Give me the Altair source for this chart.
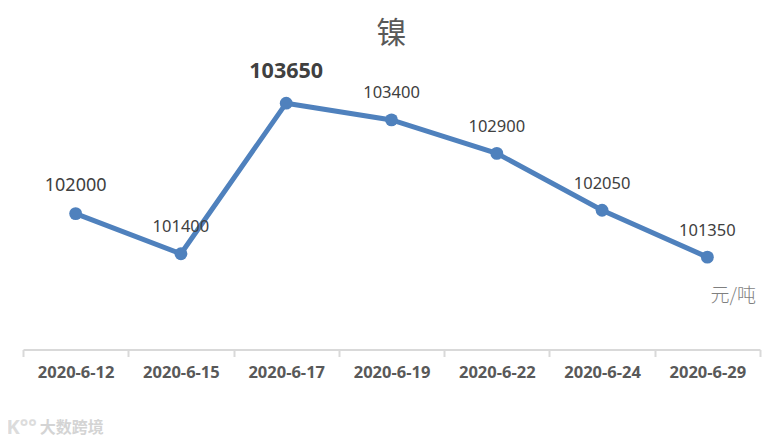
import altair as alt
import pandas as pd

dates = ["2020-6-12", "2020-6-15", "2020-6-17", "2020-6-19", "2020-6-22", "2020-6-24", "2020-6-29"]
prices = [102000, 101400, 103650, 103400, 102900, 102050, 101350]
label_sizes = [18, 16.5, 21.5, 16.5, 16.5, 16.5, 16.5]
label_bold = ["normal", "normal", "bold", "normal", "normal", "normal", "normal"]
label_dy = [-28, -27, -31, -27, -26, -26, -26]

df = pd.DataFrame({"date": dates, "price": prices, "size": label_sizes,
                   "weight": label_bold, "dy": label_dy})

x = alt.X("date:N", sort=dates, title=None,
          scale=alt.Scale(paddingInner=0, paddingOuter=0),
          axis=alt.Axis(labelAngle=0, tickBand="extent", domainColor="#d9d9d9", domainWidth=2,
                        tickColor="#d9d9d9", tickWidth=2, tickSize=7, labelPadding=8,
                        labelFont="Noto Sans", labelFontSize=16.5, labelFontWeight="bold",
                        labelColor="#595959", labelOverlap=False, grid=False))
y = alt.Y("price:Q", title=None, scale=alt.Scale(domain=[99970, 104900], nice=False, zero=False), axis=None)

base = alt.Chart(df).encode(x=x, y=y)
line = base.mark_line(color="#4f81bd", strokeWidth=5)
points = base.mark_point(filled=True, opacity=1, color="#4f81bd", size=165)

layers = [line, points]
for i in range(len(dates)):
    sub = df.iloc[[i]]
    layers.append(
        alt.Chart(sub).mark_text(font="Noto Sans", fontSize=label_sizes[i], fontWeight=label_bold[i],
                                 color="#404040", dy=label_dy[i], baseline="middle")
        .encode(x=alt.X("date:N", sort=dates), y=alt.Y("price:Q"), text=alt.Text("price:Q", format="d"))
    )

unit = alt.Chart(pd.DataFrame({"date": [dates[-1]], "price": [100770], "t": ["元/吨"]})).mark_text(
    font="Noto Sans CJK SC", fontSize=19, fontWeight=300, color="#7f7f7f", dx=26, baseline="middle"
).encode(x=alt.X("date:N", sort=dates), y=alt.Y("price:Q"), text="t:N")

mark_df = pd.DataFrame({"date": [dates[0]], "price": [98800], "t": ["大数跨境"]})
wm = alt.Chart(mark_df).mark_text(
    font="Noto Sans CJK SC", fontSize=16, fontWeight="bold", color="#d4d4d4", dx=-4, baseline="middle"
).encode(x=alt.X("date:N", sort=dates), y=alt.Y("price:Q"), text="t:N")
logo_df = pd.DataFrame({"date": [dates[0]], "price": [98800], "t": ["K°°"]})
logo = alt.Chart(logo_df).mark_text(
    font="Noto Sans", fontSize=20, fontWeight="bold", color="#dcdcdc", dx=-54, baseline="middle"
).encode(x=alt.X("date:N", sort=dates), y=alt.Y("price:Q"), text="t:N")

chart = alt.layer(*layers, unit, wm, logo).properties(
    width=737, height=330,
    title=alt.TitleParams("镍", font="Noto Sans CJK SC", fontSize=30, fontWeight="normal",
                          color="#595959", anchor="middle", offset=-44, baseline="middle"),
    autosize=alt.AutoSizeParams(type="none"),
    padding={"left": 15, "top": 11.5, "right": 7, "bottom": 90},
).configure_view(stroke=None)

chart.save("out.html", embed_options={"renderer": "svg", "actions": False})
